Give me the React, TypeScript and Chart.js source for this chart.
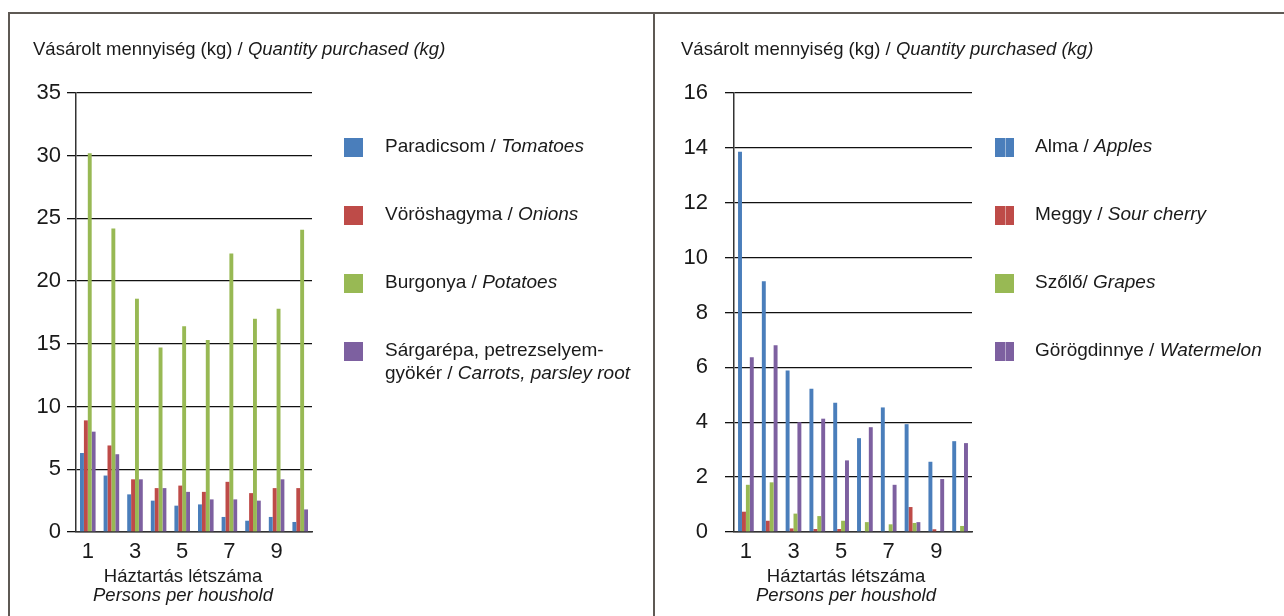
import { useEffect, useRef } from 'react';
import { Chart, registerables } from 'chart.js';

Chart.register(...registerables);

// ---------- data ----------
const categories = ['1', '2', '3', '4', '5', '6', '7', '8', '9', '10'];

const tomatoes = [6.3, 4.5, 3.0, 2.5, 2.1, 2.2, 1.2, 0.9, 1.2, 0.8];
const onions = [8.9, 6.9, 4.2, 3.5, 3.7, 3.2, 4.0, 3.1, 3.5, 3.5];
const potatoes = [30.2, 24.2, 18.6, 14.7, 16.4, 15.3, 22.2, 17.0, 17.8, 24.1];
const carrots = [8.0, 6.2, 4.2, 3.5, 3.2, 2.6, 2.6, 2.5, 4.2, 1.8];

const apples = [13.86, 9.14, 5.89, 5.22, 4.71, 3.42, 4.54, 3.93, 2.56, 3.31];
const sourCherry = [0.74, 0.41, 0.13, 0.11, 0.11, 0, 0, 0.91, 0.1, 0];
const grapes = [1.72, 1.81, 0.67, 0.58, 0.41, 0.36, 0.28, 0.33, 0, 0.22];
const watermelon = [6.37, 6.81, 4.0, 4.13, 2.61, 3.82, 1.72, 0.36, 1.93, 3.24];

const leftMax = 35;
const leftStep = 5;
const rightMax = 16;
const rightStep = 2;

const yTitleRegular = 'Vásárolt mennyiség (kg) / ';
const yTitleItalic = 'Quantity purchased (kg)';
const xTitleLine1 = 'Háztartás létszáma';
const xTitleLine2 = 'Persons per houshold';

// ---------- style ----------
const FONT = '"Liberation Sans", Arial, Helvetica, sans-serif';
const BLUE = '#4a7ebb';
const RED = '#be4b48';
const GREEN = '#98b954';
const PURPLE = '#7d60a0';
const TEXT = '#1a1a1a';

type Part = { t: string; i?: boolean };
type LegendItem = { color: string; lines: Part[][]; split?: boolean };

const leftLegend: LegendItem[] = [
  { color: BLUE, lines: [[{ t: 'Paradicsom / ' }, { t: 'Tomatoes', i: true }]] },
  { color: RED, lines: [[{ t: 'Vöröshagyma / ' }, { t: 'Onions', i: true }]] },
  { color: GREEN, lines: [[{ t: 'Burgonya / ' }, { t: 'Potatoes', i: true }]] },
  {
    color: PURPLE,
    lines: [
      [{ t: 'Sárgarépa, petrezselyem-' }],
      [{ t: 'gyökér / ' }, { t: 'Carrots, parsley root', i: true }],
    ],
  },
];

const rightLegend: LegendItem[] = [
  { color: BLUE, split: true, lines: [[{ t: 'Alma / ' }, { t: 'Apples', i: true }]] },
  { color: RED, split: true, lines: [[{ t: 'Meggy / ' }, { t: 'Sour cherry', i: true }]] },
  { color: GREEN, lines: [[{ t: 'Szőlő/ ' }, { t: 'Grapes', i: true }]] },
  { color: PURPLE, split: true, lines: [[{ t: 'Görögdinnye / ' }, { t: 'Watermelon', i: true }]] },
];

type PanelCfg = {
  width: number;
  axisWidth: number;
  padRight: number;
  labelPad: number;
  titleX: number;
  xTitleShift: number;
  squareX: number;
  textX: number;
  legend: LegendItem[];
  max: number;
  step: number;
  series: { label: string; data: number[]; color: string }[];
};

function drawParts(ctx: CanvasRenderingContext2D, x: number, y: number, parts: Part[], size: number) {
  let cx = x;
  for (const p of parts) {
    ctx.font = `${p.i ? 'italic ' : ''}${size}px ${FONT}`;
    ctx.fillText(p.t, cx, y);
    cx += ctx.measureText(p.t).width;
  }
}

function makeAnnotate(cfg: PanelCfg) {
  return {
    id: 'annotate',
    afterDraw(chart: any) {
      const ctx: CanvasRenderingContext2D = chart.ctx;
      const ca = chart.chartArea;
      ctx.save();
      ctx.textBaseline = 'middle';
      ctx.textAlign = 'left';
      ctx.fillStyle = TEXT;
      drawParts(ctx, cfg.titleX, 50, [{ t: yTitleRegular }, { t: yTitleItalic, i: true }], 18.5);

      const cx = (ca.left + ca.right) / 2 + cfg.xTitleShift;
      ctx.textAlign = 'center';
      ctx.font = `18.5px ${FONT}`;
      ctx.fillText(xTitleLine1, cx, ca.bottom + 45);
      ctx.font = `italic 18.5px ${FONT}`;
      ctx.fillText(xTitleLine2, cx, ca.bottom + 64);

      ctx.textAlign = 'left';
      cfg.legend.forEach((item, k) => {
        const y = ca.top + 54 + k * 68;
        ctx.fillStyle = item.color;
        ctx.fillRect(cfg.squareX, y - 9, 19, 19);
        if (item.split) {
          ctx.fillStyle = 'rgba(255,255,255,0.45)';
          ctx.fillRect(cfg.squareX + 10, y - 9, 1, 19);
        }
        ctx.fillStyle = TEXT;
        item.lines.forEach((line, j) => drawParts(ctx, cfg.textX, y + j * 23, line, 19));
      });
      ctx.restore();
    },
  };
}

function Panel({ cfg, left }: { cfg: PanelCfg; left: number }) {
  const ref = useRef<HTMLCanvasElement | null>(null);
  useEffect(() => {
    if (!ref.current) return;
    const chart = new Chart(ref.current, {
      type: 'bar',
      data: {
        labels: categories,
        datasets: cfg.series.map((s) => ({
          label: s.label,
          data: s.data,
          backgroundColor: s.color,
          borderWidth: 0,
          barPercentage: 1.0,
          categoryPercentage: 0.66,
        })),
      },
      options: {
        responsive: false,
        animation: false,
        devicePixelRatio: 1,
        layout: { padding: { left: 0, right: cfg.padRight, top: 93, bottom: 0 } },
        plugins: { legend: { display: false }, tooltip: { enabled: false }, title: { display: false } },
        scales: {
          x: {
            grid: { display: false, drawTicks: false },
            border: { display: true, color: '#333', width: 1.5 },
            ticks: {
              autoSkip: false,
              maxRotation: 0,
              padding: 7,
              color: TEXT,
              font: { family: FONT, size: 22 },
              callback: (_v: any, i: number) => (i % 2 === 0 ? categories[i] : ''),
            },
            afterFit: (scale: any) => {
              scale.height = 84;
            },
          },
          y: {
            min: 0,
            max: cfg.max,
            grid: { color: '#111', lineWidth: 1.3, drawTicks: true, tickLength: 9 },
            border: { display: true, color: '#333', width: 1.5 },
            ticks: {
              stepSize: cfg.step,
              padding: cfg.labelPad,
              color: TEXT,
              font: { family: FONT, size: 22 },
            },
            afterFit: (scale: any) => {
              scale.width = cfg.axisWidth;
            },
          },
        },
      },
      plugins: [makeAnnotate(cfg)],
    });
    return () => chart.destroy();
  }, []);
  return (
    <canvas
      ref={ref}
      width={cfg.width}
      height={616}
      style={{ position: 'absolute', left, top: 0, width: cfg.width, height: 616 }}
    />
  );
}

const leftCfg: PanelCfg = {
  width: 654,
  axisWidth: 76,
  padRight: 342,
  labelPad: 6,
  titleX: 33,
  xTitleShift: -11,
  squareX: 344,
  textX: 385,
  legend: leftLegend,
  max: leftMax,
  step: leftStep,
  series: [
    { label: 'Paradicsom', data: tomatoes, color: BLUE },
    { label: 'Vöröshagyma', data: onions, color: RED },
    { label: 'Burgonya', data: potatoes, color: GREEN },
    { label: 'Sárgarépa', data: carrots, color: PURPLE },
  ],
};

const rightCfg: PanelCfg = {
  width: 630,
  axisWidth: 80,
  padRight: 312,
  labelPad: 17,
  titleX: 27,
  xTitleShift: -7,
  squareX: 341,
  textX: 381,
  legend: rightLegend,
  max: rightMax,
  step: rightStep,
  series: [
    { label: 'Alma', data: apples, color: BLUE },
    { label: 'Meggy', data: sourCherry, color: RED },
    { label: 'Szőlő', data: grapes, color: GREEN },
    { label: 'Görögdinnye', data: watermelon, color: PURPLE },
  ],
};

export default function App() {
  const line = '#5e5954';
  return (
    <div style={{ position: 'fixed', left: 0, top: 0, width: 1284, height: 616, background: '#fff', overflow: 'hidden' }}>
      <Panel cfg={leftCfg} left={0} />
      <Panel cfg={rightCfg} left={654} />
      <div style={{ position: 'absolute', left: 8, top: 12, width: 1276, height: 2, background: line }} />
      <div style={{ position: 'absolute', left: 8, top: 12, width: 2, height: 604, background: line }} />
      <div style={{ position: 'absolute', left: 653, top: 12, width: 2, height: 604, background: line }} />
    </div>
  );
}
